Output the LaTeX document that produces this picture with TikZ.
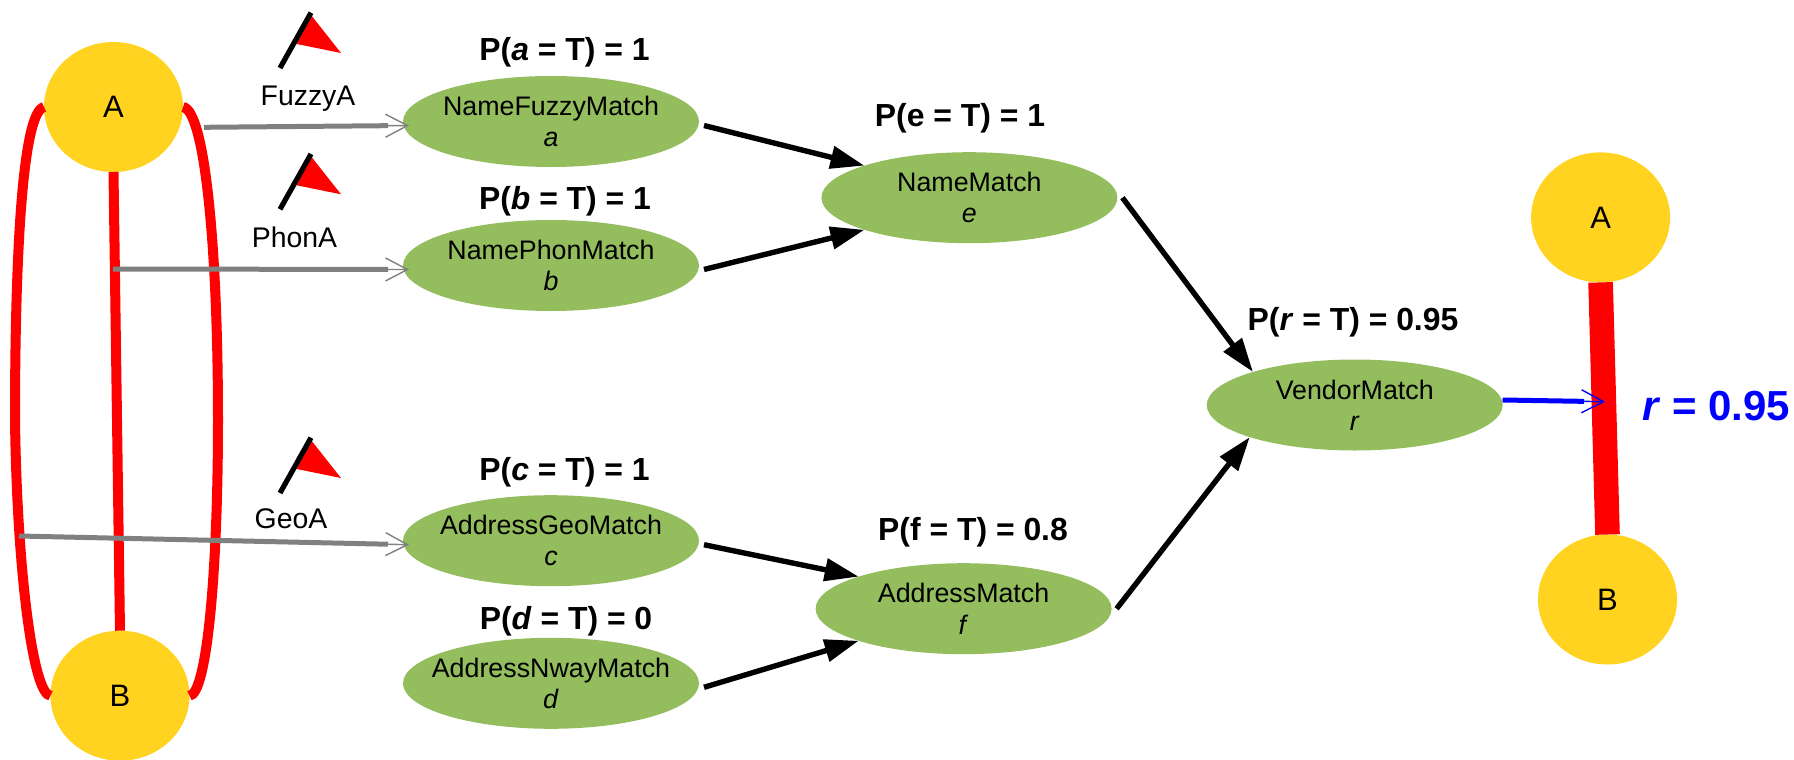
\documentclass[tikz,border=0pt]{standalone}
\usepackage{fontspec}
\setmainfont{Liberation Sans}
\usetikzlibrary{positioning, shapes.geometric, arrows.meta}

\definecolor{entityyellow}{HTML}{FFD320}
\definecolor{matchgreen}{HTML}{94BD5E}

\begin{document}
\begin{tikzpicture}[
                x=0.5pt, y=-0.5pt,
                entity/.style={ellipse, fill=entityyellow, minimum width=69.5pt, minimum height=65pt, inner sep=0pt, outer sep=0pt, font=\fontsize{15.5}{18}\selectfont},
                match/.style={ellipse, fill=matchgreen, minimum width=148pt, minimum height=45.5pt, inner xsep=-30pt, inner ysep=0pt, outer sep=0pt, align=center, font=\fontsize{13.4}{15.7}\selectfont},
                prob/.style={anchor=base, inner sep=0pt, font=\fontsize{15.95}{18}\selectfont\bfseries},
                agent/.style={anchor=base, inner sep=0pt, font=\fontsize{14.2}{16}\selectfont},
                edge/.style={-{Triangle[length=17pt, width=11pt]}, line width=2.7pt},
                redlink/.style={red, line width=5pt},
                graylink/.style={draw=gray, line width=2.5pt},
                graytip/.style={draw=gray, line width=0.7pt, -{Straight Barb[length=11pt, width=11.5pt]}},
                bluelink/.style={draw=blue, line width=2.5pt},
                bluetipline/.style={draw=blue, line width=0.7pt, -{Straight Barb[length=11pt, width=11.5pt]}}
            ]
                \useasboundingbox (0, 0) rectangle (1794, 760);

                % entities
                \node[entity] (nodeA) at (113.5, 107) {A};
                \node[entity] (nodeB) at (120, 695.7) {B};
                \node[entity] (resA) at (1600.6, 217.4) {A};
                \node[entity] (resB) at (1607.5, 599.5) {B};

                % match nodes
                \node[match] (a) at (551, 121.5) {NameFuzzyMatch\\\textit{a}};
                \node[match] (b) at (551, 265.5) {NamePhonMatch\\\textit{b}};
                \node[match] (c) at (551, 540.7) {AddressGeoMatch\\\textit{c}};
                \node[match] (d) at (551, 683.3) {AddressNwayMatch\\\textit{d}};
                \node[match] (e) at (969.4, 197.7) {NameMatch\\\textit{e}};
                \node[match] (f) at (963.6, 608.7) {AddressMatch\\\textit{f}};
                \node[match] (r) at (1354.7, 405) {VendorMatch\\\textit{r}};

                % probabilities
                \node[prob] (pa) at (564.5, 60) {P(\textit{a} = T) = 1};
                \node[prob] (pb) at (565, 209.3) {P(\textit{b} = T) = 1};
                \node[prob] (pc) at (564.5, 480.7) {P(\textit{c} = T) = 1};
                \node[prob] (pd) at (566, 629.3) {P(\textit{d} = T) = 0};
                \node[prob] (pe) at (960, 126.7) {P(e = T) = 1};
                \node[prob] (pf) at (973, 540) {P(f = T) = 0.8};
                \node[prob] (pr) at (1353, 330) {P(\textit{r} = T) = 0.95};
                \node[prob, text=blue, font=\fontsize{21}{24}\selectfont\bfseries] (rval) at (1716, 420) {\textit{r} = 0.95};

                % agents
                \node[agent] (fuzzy) at (308, 105) {FuzzyA};
                \node[agent] (phon) at (294.5, 247) {PhonA};
                \node[agent] (geo) at (291, 528) {GeoA};

                % flags
                \foreach \dy in {0, 141.3, 425} {
                    \fill[red] (311, 15+\dy) -- (341, 53+\dy) -- (296.7, 44+\dy) -- cycle;
                    \draw[line width=2.6pt] (280, 68+\dy) -- (311, 12.7+\dy);
                }

                % similarity edges
                \draw[redlink] (nodeA.west) .. controls (22, 112) and (15, 260) .. (15, 420)
                    .. controls (17, 570) and (33, 695) .. (nodeB.west);
                \draw[redlink] (nodeA.east) .. controls (205, 110) and (218, 250) .. (218, 420)
                    .. controls (218, 570) and (207, 695) .. (nodeB.east);
                \draw[redlink] (nodeA.south) -- (nodeB.north);
                \draw[red, line width=12.3pt] (resA.south) -- (resB.north);

                % agent edges
                \coordinate (fuzzystart) at (204, 127.3);
                \coordinate (phonstart) at (113, 269);
                \coordinate (geostart) at (19, 536);
                \foreach \src/\dst in {fuzzystart/a, phonstart/b, geostart/c} {
                    \draw[graylink, shorten >=10.5pt] (\src) -- ([shift={(3pt,-2pt)}]\dst.west);
                    \draw[graytip] (\src) -- ([shift={(3pt,-2pt)}]\dst.west);
                }

                % inference edges
                \draw[edge] ([shift={(2.5pt,-2pt)}]a.east) -- (e.163);
                \draw[edge] ([shift={(2.5pt,-2pt)}]b.east) -- (e.197);
                \draw[edge] ([shift={(2.5pt,-2pt)}]c.east) -- (f.163);
                \draw[edge] ([shift={(2.5pt,-2pt)}]d.east) -- (f.197);
                \draw[edge] ([xshift=2.5pt]e.east) -- (r.162);
                \draw[edge] ([xshift=2.5pt]f.east) -- (r.197);

                % result edge
                \coordinate (bluetip) at (1605, 401.7);
                \draw[bluelink, shorten >=10.5pt] ([yshift=2.5pt]r.east) -- (bluetip);
                \draw[bluetipline] ([yshift=2.5pt]r.east) -- (bluetip);
            \end{tikzpicture}
\end{document}
